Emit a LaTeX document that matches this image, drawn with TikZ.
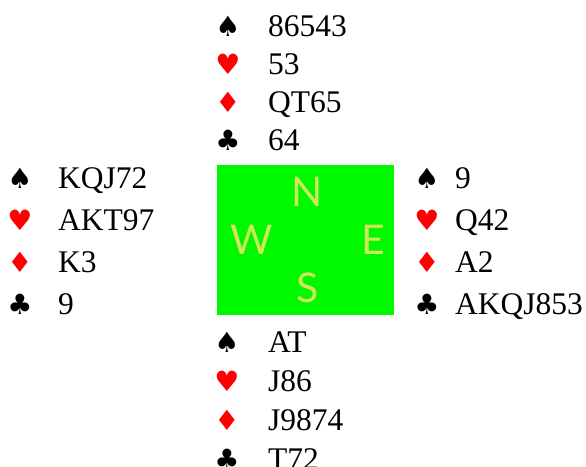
\documentclass[tikz,border=0pt]{standalone}
\usepackage{fontspec}
\setmainfont{Liberation Serif}
\newfontfamily\suitfont{DejaVu Sans}
\newfontfamily\compassfont{Lato}
\definecolor{tablegreen}{RGB}{0,248,0}
\definecolor{compasscol}{RGB}{205,232,90}
\definecolor{suitred}{RGB}{255,0,0}

\begin{document}
\begin{tikzpicture}[x=1pt, y=-1pt,
		suit/.style={font=\suitfont\fontsize{28}{28}\selectfont, inner sep=0pt, anchor=base},
		red suit/.style={suit, text=suitred},
		cards/.style={font=\fontsize{31.5}{31.5}\selectfont, inner sep=0pt, anchor=base west},
		compass/.style={font=\compassfont\fontsize{41}{41}\selectfont, text=compasscol, inner sep=0pt}]
	\useasboundingbox (0,0) rectangle (586,466);

	% table
	\node[fill=tablegreen, minimum width=177pt, minimum height=150pt, inner sep=0pt] (table) at (305.5,240) {};
	\node[compass] (dirN) at (307,192) {N};
	\node[compass] (dirW) at (252,240) {W};
	\node[compass] (dirE) at (373,240) {E};
	\node[compass] (dirS) at (308,288) {S};

	% north
	\node[suit] (nS) at (228,36) {♠};
	\node[red suit] (nH) at (228,74) {♥};
	\node[red suit] (nD) at (228,112) {♦};
	\node[suit] (nC) at (228,150) {♣};
	\node[cards] (nSc) at (268,36) {86543};
	\node[cards] (nHc) at (268,74) {53};
	\node[cards] (nDc) at (268,112) {QT65};
	\node[cards] (nCc) at (268,150) {64};

	% west
	\node[suit] (wS) at (20,188) {♠};
	\node[red suit] (wH) at (20,230) {♥};
	\node[red suit] (wD) at (20,272) {♦};
	\node[suit] (wC) at (20,314) {♣};
	\node[cards] (wSc) at (58,188) {KQJ72};
	\node[cards] (wHc) at (58,230) {AKT97};
	\node[cards] (wDc) at (58,272) {K3};
	\node[cards] (wCc) at (58,314) {9};

	% east
	\node[suit] (eS) at (427,188) {♠};
	\node[red suit] (eH) at (427,230) {♥};
	\node[red suit] (eD) at (427,272) {♦};
	\node[suit] (eC) at (427,314) {♣};
	\node[cards] (eSc) at (455,188) {9};
	\node[cards] (eHc) at (455,230) {Q42};
	\node[cards] (eDc) at (455,272) {A2};
	\node[cards] (eCc) at (455,314) {AKQJ853};

	% south
	\node[suit] (sS) at (227,352) {♠};
	\node[red suit] (sH) at (227,391) {♥};
	\node[red suit] (sD) at (227,430) {♦};
	\node[suit] (sC) at (227,469) {♣};
	\node[cards] (sSc) at (268,352) {AT};
	\node[cards] (sHc) at (268,391) {J86};
	\node[cards] (sDc) at (268,430) {J9874};
	\node[cards] (sCc) at (268,469) {T72};
\end{tikzpicture}
\end{document}
